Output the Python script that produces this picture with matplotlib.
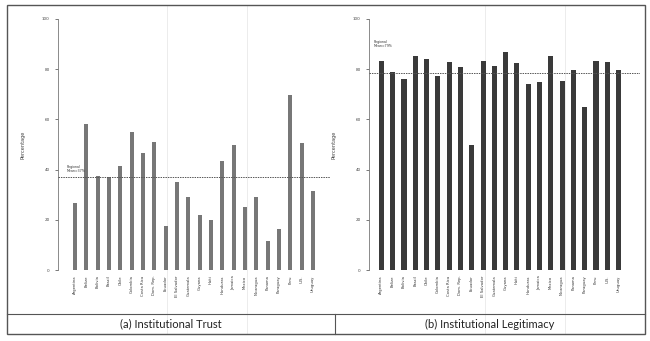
import matplotlib.pyplot as plt
from matplotlib.lines import Line2D
from matplotlib.patches import Rectangle

# countries shown on both panels
countries = ['Argentina', 'Belize', 'Bolivia', 'Brazil', 'Chile', 'Colombia',
             'Costa Rica', 'Dom. Rep.', 'Ecuador', 'El Salvador', 'Guatemala',
             'Guyana', 'Haiti', 'Honduras', 'Jamaica', 'Mexico', 'Nicaragua',
             'Panama', 'Paraguay', 'Peru', 'U.S.', 'Uruguay']

# (a) institutional trust, percent
trust = [26.5, 58, 37.5, 37, 41.5, 55, 46.5, 51, 17.7, 35, 29.2, 22,
         20, 43.5, 50, 25, 29, 11.6, 16.3, 69.7, 50.6, 31.3]
trust_mean = 37

# (b) institutional legitimacy, percent
legit = [83.1, 78.9, 76.1, 85.4, 84.2, 77.1, 82.8, 81, 50, 83.1, 81.2,
         86.8, 82.6, 74.1, 75, 85.4, 75.4, 79.5, 65.1, 83.1, 82.7, 79.5]
legit_mean = 78.6

captions = ['(a) Institutional Trust', '(b) Institutional Legitimacy']

W, H = 650, 341
fig = plt.figure(figsize=(W / 100, H / 100), dpi=100)


def px_box(x0, x1, y_top, y_bot):
    # pixel box -> figure fraction [left, bottom, width, height]
    return [x0 / W, 1 - y_bot / H, (x1 - x0) / W, (y_bot - y_top) / H]


def draw_panel(box, values, mean, mean_label, color, width, xlim, label_y):
    ax = fig.add_axes(box)
    x = list(range(len(values)))
    ax.bar(x, values, width=width, color=color, zorder=2)
    ax.axhline(mean, color='#555555', lw=0.7, ls=(0, (1.5, 1)), zorder=3)
    ax.set_xlim(*xlim)
    ax.set_ylim(0, 100)
    ax.set_yticks([0, 20, 40, 60, 80, 100])
    ax.tick_params(axis='y', labelsize=3, length=2, width=0.5, pad=4,
                   colors='#444444')
    ax.set_xticks(x)
    ax.set_xticklabels(countries, rotation=90, fontsize=2.7, color='#333333')
    ax.tick_params(axis='x', length=0, pad=4)
    for s in ['top', 'right', 'bottom']:
        ax.spines[s].set_visible(False)
    ax.spines['left'].set_linewidth(0.6)
    ax.spines['left'].set_color('#777777')
    ax.set_ylabel('Percentage', fontsize=3.6, color='#444444', labelpad=12)
    ax.patch.set_alpha(0)
    ax.text(-0.7, label_y, mean_label, fontsize=2.3, color='#333333',
            va='bottom', ha='left', linespacing=1.0)
    return ax


draw_panel(px_box(58, 330, 19, 270), trust, trust_mean, 'Regional\nMean=37%',
           '#777777', 0.36, (-1.5, 22.5), trust_mean + 1.5)
draw_panel(px_box(369, 640, 19, 270), legit, legit_mean, 'Regional\nMean=79%',
           '#3a3a3a', 0.45, (-1.1, 22.9), 88.5)

# faint scan lines behind the charts
for xp in [167, 247, 485, 565]:
    fig.add_artist(Line2D([xp / W, xp / W], [1 - 334 / H, 1 - 5 / H],
                          color='#ececec', lw=0.7, zorder=0))

# outer frame with caption strip
frame_col = '#555555'
fig.add_artist(Rectangle((7 / W, 1 - 334 / H), 638 / W, 329 / H, fill=False,
                         ec=frame_col, lw=1.0))
fig.add_artist(Line2D([7 / W, 645 / W], [1 - 314 / H, 1 - 314 / H],
                      color=frame_col, lw=0.8))
fig.add_artist(Line2D([335 / W, 335 / W], [1 - 334 / H, 1 - 314 / H],
                      color=frame_col, lw=0.8))

fig.text(171 / W, 1 - 324 / H, captions[0], fontsize=8, family='Lato',
         ha='center', va='center', color='#222222')
fig.text(490 / W, 1 - 324 / H, captions[1], fontsize=8, family='Lato',
         ha='center', va='center', color='#222222')

fig.savefig('out.png', dpi=100)
